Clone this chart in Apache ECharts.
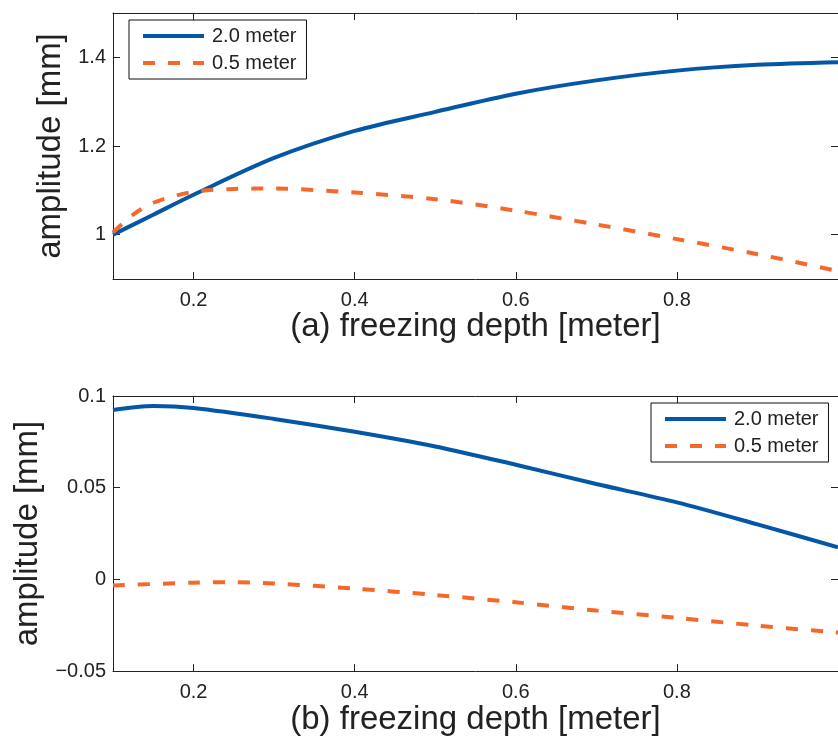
<!DOCTYPE html>
<html>
<head>
<meta charset="utf-8">
<script src="https://cdn.jsdelivr.net/npm/echarts@6/dist/echarts.min.js"></script>
<style>
    html, body { margin: 0; padding: 0; background: #fff; }
    #chart { width: 838px; height: 737px; }
</style>
</head>
<body>
<div id="chart"></div>
<script>
    // (a) amplitude vs freezing depth
    var depthA_20 = [0.1, 0.15, 0.2, 0.3, 0.4, 0.5, 0.6, 0.7, 0.8, 0.9, 1.0];
    var ampA_20 = [1.0, 1.045, 1.09, 1.173, 1.234, 1.277, 1.318, 1.348, 1.370, 1.383, 1.389];
    var depthA_05 = [0.1, 0.125, 0.15, 0.2, 0.25, 0.3, 0.4, 0.5, 0.6, 0.7, 0.8, 0.9, 1.0];
    var ampA_05 = [1.005, 1.045, 1.072, 1.097, 1.103, 1.104, 1.095, 1.08, 1.054, 1.023, 0.99, 0.956, 0.918];

    // (b)
    var depthB_20 = [0.1, 0.15, 0.2, 0.3, 0.4, 0.5, 0.6, 0.7, 0.8, 0.9, 1.0];
    var ampB_20 = [0.0924, 0.0946, 0.0935, 0.0875, 0.0805, 0.0725, 0.0625, 0.052, 0.042, 0.030, 0.0175];
    var depthB_05 = [0.1, 0.2, 0.25, 0.3, 0.4, 0.5, 0.6, 0.7, 0.8, 0.9, 1.0];
    var ampB_05 = [-0.0033, -0.0018, -0.0015, -0.0022, -0.005, -0.0085, -0.0125, -0.017, -0.021, -0.0252, -0.029];

    var xTicks = [0.2, 0.4, 0.6, 0.8];
    var yTicksA = [1, 1.2, 1.4];
    var yTicksB = [-0.05, 0, 0.05, 0.1];

    var names = ['2.0 meter', '0.5 meter'];
    var blue = '#0456a6', orange = '#f4682a';
    var font = "'Liberation Sans', Helvetica, Arial, sans-serif";

    function pairs(xs, ys) {
        return xs.map(function (x, i) { return [x, ys[i]]; });
    }
    function fmt(v) {
        return String(+v.toFixed(3)).replace('-', '\u2212');
    }

    var axisLine = { show: true, onZero: false, lineStyle: { color: '#222', width: 1 } };
    var tick = function (vals) {
        return { show: true, inside: true, length: 7, lineStyle: { color: '#222' }, customValues: vals };
    };

    function xAxes(grid, title) {
        return [{
            type: 'value', gridIndex: grid, min: 0.1, max: 1.0, position: 'bottom',
            axisLine: axisLine, axisTick: tick(xTicks), splitLine: { show: false },
            axisLabel: { customValues: xTicks, formatter: fmt, fontSize: 20, color: '#222', fontFamily: font, margin: 11 },
            name: title, nameLocation: 'middle', nameGap: 31,
            nameTextStyle: { fontSize: 33, color: '#222', fontFamily: font, verticalAlign: 'top' }
        }, {
            type: 'value', gridIndex: grid, min: 0.1, max: 1.0, position: 'top',
            axisLine: axisLine, axisTick: tick(xTicks), axisLabel: { show: false }, splitLine: { show: false }
        }];
    }
    function yAxes(grid, min, max, vals, gap) {
        return [{
            type: 'value', gridIndex: grid, min: min, max: max, position: 'left',
            axisLine: axisLine, axisTick: tick(vals), splitLine: { show: false },
            axisLabel: { customValues: vals, formatter: fmt, fontSize: 20, color: '#222', fontFamily: font, margin: 7 },
            name: 'amplitude [mm]', nameLocation: 'middle', nameGap: gap,
            nameTextStyle: { fontSize: 33, color: '#222', fontFamily: font }
        }, {
            type: 'value', gridIndex: grid, min: min, max: max, position: 'right',
            axisLine: axisLine, axisTick: tick(vals), axisLabel: { show: false }, splitLine: { show: false }
        }];
    }

    function line(name, data, xi, yi, color, dashed) {
        return {
            name: name, type: 'line', xAxisIndex: xi, yAxisIndex: yi,
            data: data, smooth: 0.3, symbol: 'none', silent: true,
            lineStyle: { color: color, width: 4, type: dashed ? [12, 13] : 'solid' },
            itemStyle: { color: color }
        };
    }

    var legendBase = {
        orient: 'vertical', data: names, selectedMode: false,
        itemWidth: 61, itemHeight: 14, itemGap: 7,
        padding: [6, 10, 6, 12],
        itemStyle: { opacity: 0 },
        lineStyle: { width: 4 },
        borderColor: '#111', borderWidth: 1, backgroundColor: '#fff',
        textStyle: { fontSize: 20, color: '#222', fontFamily: font, padding: [0, 0, 0, 3] }
    };

    var option = {
        animation: false,
        grid: [
            { left: 113, right: -4, top: 13, height: 266 },
            { left: 113, right: -4, top: 396, height: 276 }
        ],
        xAxis: xAxes(0, '(a) freezing depth [meter]').concat(xAxes(1, '(b) freezing depth [meter]')),
        yAxis: yAxes(0, 0.9, 1.5, yTicksA, 44).concat(yAxes(1, -0.05, 0.1, yTicksB, 66)),
        legend: [
            Object.assign({}, legendBase, { left: 129, top: 20 }),
            Object.assign({}, legendBase, { left: 651, top: 403 })
        ],
        series: [
            line(names[0], pairs(depthA_20, ampA_20), 0, 0, blue, false),
            line(names[1], pairs(depthA_05, ampA_05), 0, 0, orange, true),
            line(names[0], pairs(depthB_20, ampB_20), 2, 2, blue, false),
            line(names[1], pairs(depthB_05, ampB_05), 2, 2, orange, true)
        ]
    };

    var myChart = echarts.init(document.getElementById('chart'));
    myChart.setOption(option);
</script>
</body>
</html>
